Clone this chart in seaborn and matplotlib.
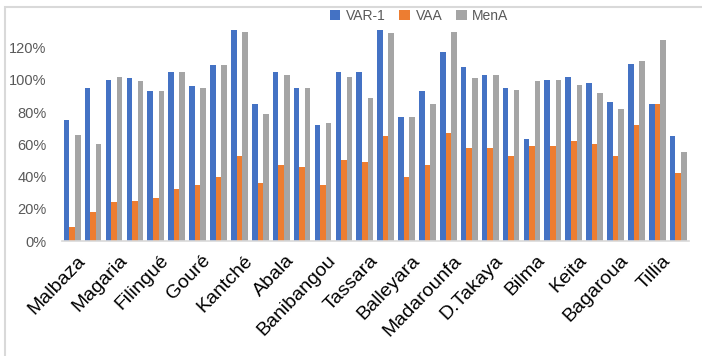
import numpy as np
import pandas as pd
import matplotlib
matplotlib.use("Agg")
import matplotlib.pyplot as plt
import seaborn as sns
from matplotlib.ticker import PercentFormatter

# Data (share) - 30 districts, only every other one is labelled
tick_labels = ["Malbaza", "Magaria", "Filingué", "Gouré", "Kantché", "Abala",
               "Banibangou", "Tassara", "Balleyara", "Madarounfa", "D.Takaya",
               "Bilma", "Keita", "Bagaroua", "Tillia"]
var1 = [75, 95, 100, 101, 93, 105, 96, 109, 131, 85,
        105, 95, 72, 105, 105, 131, 77, 93, 117, 108,
        103, 95, 63, 100, 102, 98, 86, 110, 85, 65]
vaa = [9, 18, 24, 25, 27, 32, 35, 40, 53, 36,
       47, 46, 35, 50, 49, 65, 40, 47, 67, 58,
       58, 53, 59, 59, 62, 60, 53, 72, 85, 42]
mena = [66, 60, 102, 99, 93, 105, 95, 109, 130, 79,
        103, 95, 73, 102, 89, 129, 77, 85, 130, 101,
        103, 94, 99, 100, 97, 92, 82, 112, 125, 55]
series = ["VAR-1", "VAA", "MenA"]
colors = ["#4472C4", "#ED7D31", "#A5A5A5"]

n = len(var1)
df = pd.DataFrame({
    "group": np.tile(np.arange(n), 3),
    "serie": np.repeat(series, n),
    "value": np.concatenate([var1, vaa, mena]) / 100.0,
})

sns.set_style("white")
plt.rcParams["font.family"] = ["Liberation Sans", "DejaVu Sans"]

fig = plt.figure(figsize=(7.02, 3.56), dpi=100)
ax = fig.add_axes([0.088, 0.323, 0.893, 0.593])

sns.barplot(data=df, x="group", y="value", hue="serie", palette=colors,
            width=0.8, gap=0.0, linewidth=0, saturation=1, ax=ax, legend=True)

ax.set_ylim(0, 1.31)
ax.set_yticks(np.arange(0, 1.21, 0.2))
ax.yaxis.set_major_formatter(PercentFormatter(1.0, decimals=0))
ax.tick_params(axis="y", labelsize=10.5, labelcolor="#595959", length=0, pad=11)

ax.set_xticks(np.arange(0, n, 2) + 0.2)
ax.set_xticklabels(tick_labels, rotation=46, ha="right", rotation_mode="anchor",
                   fontsize=14, color="black")
ax.tick_params(axis="x", length=0, pad=8)
ax.set_xlim(-0.5, n - 0.5)
ax.set_xlabel("")
ax.set_ylabel("")

for s in ["top", "right", "left"]:
    ax.spines[s].set_visible(False)
ax.spines["bottom"].set_color("#D9D9D9")
ax.spines["bottom"].set_linewidth(1.2)

leg = ax.legend(loc="lower center", bbox_to_anchor=(0.57, 1.0), ncol=3, frameon=False,
                fontsize=10, handlelength=0.75, handleheight=0.75, handletextpad=0.4,
                columnspacing=1.0, borderaxespad=0.1)
for t in leg.get_texts():
    t.set_color("#595959")

# light chart border like the spreadsheet frame (cut at right and bottom)
fig.patches.append(plt.Rectangle((0.007, -0.05), 1.1, 1.03, transform=fig.transFigure,
                                 fill=False, edgecolor="#D9D9D9", linewidth=1.5))

fig.savefig("out.png", dpi=100)
